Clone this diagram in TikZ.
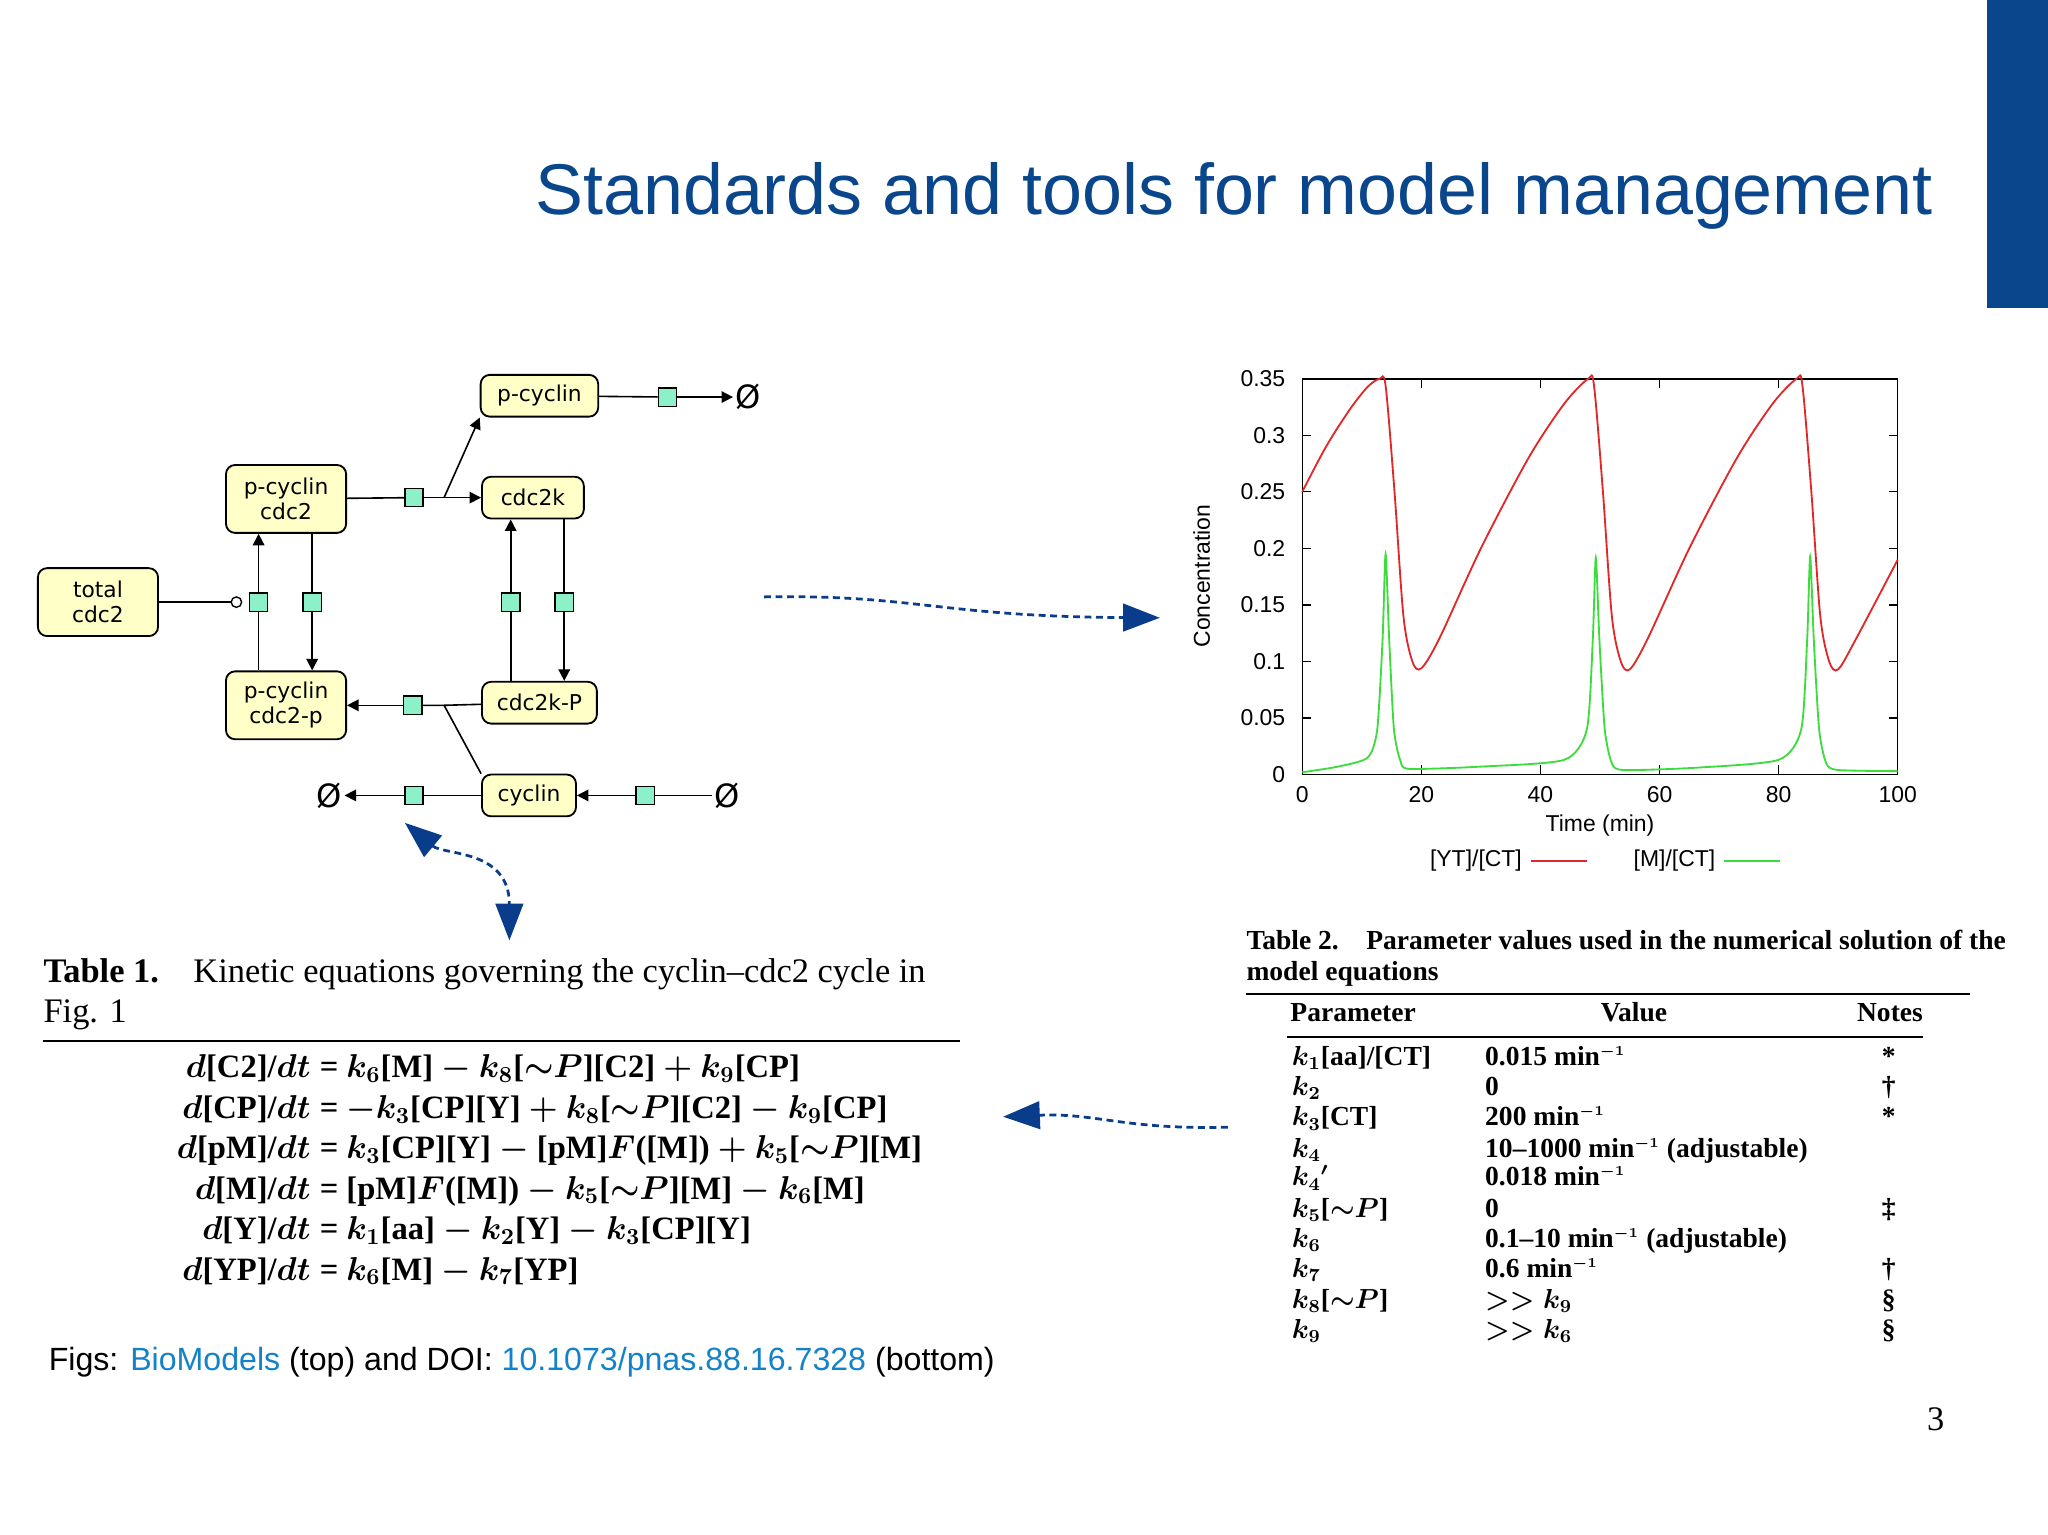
\documentclass[tikz,border=0pt]{standalone}
\usepackage{fontspec}
\setmainfont{Liberation Serif}
\setsansfont{Liberation Sans}
\newfontfamily\dv{DejaVu Sans}
\usetikzlibrary{arrows.meta,shapes.misc}
\definecolor{titleblue}{RGB}{10,70,140}
\definecolor{darkblue}{RGB}{10,60,140}
\definecolor{linkblue}{RGB}{20,130,200}
\definecolor{spfill}{RGB}{255,255,200}
\definecolor{sqfill}{RGB}{140,240,200}
\definecolor{redc}{RGB}{225,40,40}
\definecolor{greenc}{RGB}{60,220,60}
\newcommand{\mininv}{min$^{\scriptscriptstyle -1}$}
\tikzset{
 species/.style={draw,line width=0.8pt,rounded corners=4pt,fill=spfill,font=\dv\fontsize{9.5}{11}\selectfont,align=center,inner sep=0pt},
 proc/.style={draw,line width=0.6pt,fill=sqfill,minimum size=0.28cm,inner sep=0pt},
 emptyset/.style={font=\dv\fontsize{14}{14}\selectfont,inner sep=1pt},
 rx/.style={line width=0.7pt},
 rxa/.style={line width=0.7pt,-{Triangle[length=5pt,width=5pt]}},
 dasharrow/.style={darkblue,line width=1.2pt,dash pattern=on 3pt off 2pt,-{Triangle[length=16pt,width=12pt]}},
 t2/.style={anchor=base west},
}
\begin{document}
\begin{tikzpicture}[x=0.02cm,y=-0.02cm]
\useasboundingbox (0,0) rectangle (1568,1175);
\fill[white] (0,0) rectangle (1568,1175);
\fill[titleblue] (1521,0) rectangle (1568,236);
\node[anchor=base east,text=titleblue,font=\sffamily\fontsize{31.3}{36}\selectfont] (title) at (1486,164) {Standards and tools for model management};

% network
\node[species,minimum width=90*0.02cm,minimum height=32*0.02cm] (pc) at (413,303) {p-cyclin};
\node[species,minimum width=92*0.02cm,minimum height=52*0.02cm] (pcc) at (219,382) {p-cyclin\\cdc2};
\node[species,minimum width=78*0.02cm,minimum height=32*0.02cm] (ck) at (408,381) {cdc2k};
\node[species,minimum width=92*0.02cm,minimum height=52*0.02cm] (tot) at (75,461) {total\\cdc2};
\node[species,minimum width=92*0.02cm,minimum height=52*0.02cm] (pccp) at (219,540) {p-cyclin\\cdc2-p};
\node[species,minimum width=88*0.02cm,minimum height=32*0.02cm] (ckp) at (413,538) {cdc2k-P};
\node[species,minimum width=72*0.02cm,minimum height=32*0.02cm] (cyc) at (405,609) {cyclin};
\node[proc] (s1) at (511,304) {};
\node[proc] (s2) at (317,381) {};
\node[proc] (s3) at (198,461) {};
\node[proc] (s4) at (239,461) {};
\node[proc] (s5) at (391,461) {};
\node[proc] (s6) at (432,461) {};
\node[proc] (s7) at (316,540) {};
\node[proc] (s8) at (317,609) {};
\node[proc] (s9) at (494,609) {};
\node[emptyset] (e1) at (573,304) {Ø};
\node[emptyset] (e2) at (252,609) {Ø};
\node[emptyset] (e3) at (557,609) {Ø};
\coordinate (j1) at (340,381);
\coordinate (j2) at (340,540);
\draw[rx] (pc) -- (s1); \draw[rxa] (s1) -- (e1);
\draw[rx] (pcc) -- (s2); \draw[rx] (s2) -- (j1); \draw[rxa] (j1) -- (ck); \draw[rxa] (j1) -- (pc.south west);
\draw[rx] (pccp.north -| s3) -- (s3); \draw[rxa] (s3) -- (pcc.south -| s3);
\draw[rx] (pcc.south -| s4) -- (s4); \draw[rxa] (s4) -- (pccp.north -| s4);
\draw[rx] (ckp.north -| s5) -- (s5); \draw[rxa] (s5) -- (ck.south -| s5);
\draw[rx] (ck.south -| s6) -- (s6); \draw[rxa] (s6) -- (ckp.north -| s6);
\draw[rx] (ckp) -- (j2) -- (s7); \draw[rxa] (s7) -- (pccp);
\draw[rx] (cyc.north west) -- (j2);
\draw[rx] (cyc) -- (s8); \draw[rxa] (s8) -- (e2);
\draw[rx] (e3) -- (s9); \draw[rxa] (s9) -- (cyc);
\draw[rx] (tot) -- (177,461);
\draw[line width=0.6pt,fill=white] (181,461) circle (4*0.02cm);

% dashed arrows
\coordinate (a1) at (585,457); \coordinate (a2) at (888,473);
\draw[dasharrow] (a1) .. controls (700,455) and (720,472) .. (a2);
\coordinate (b1) at (940,863); \coordinate (b2) at (768,855);
\draw[dasharrow] (b1) .. controls (860,865) and (840,852) .. (b2);
\coordinate (c1) at (310,630); \coordinate (c2) at (390,720);
\draw[dasharrow,{Triangle[length=16pt,width=12pt]}-{Triangle[length=16pt,width=12pt]}] (c1) .. controls (340,655) and (390,650) .. (c2);

% plot
\begin{scope}[shift={(997,593)},x=0.0912cm,y=17.314cm]
\draw[line width=0.6pt] (0,0) rectangle (100,0.35);
\foreach \t in {0,20,40,60,80,100} {
  \draw[line width=0.5pt] (\t,0) -- (\t,0.008) (\t,0.35) -- (\t,0.342);
  \node[font=\sffamily\fontsize{10}{12}\selectfont] at (\t,-0.018) {\t};}
\foreach \c in {0,0.05,0.1,0.15,0.2,0.25,0.3,0.35} {
  \draw[line width=0.5pt] (0,\c) -- (1.5,\c) (100,\c) -- (98.5,\c);
  \node[anchor=east,font=\sffamily\fontsize{10}{12}\selectfont] at (-1.5,\c) {\c};}
\draw[redc,line width=0.8pt] plot[smooth,tension=0.5] coordinates {
 (0,0.25) (4,0.29) (8,0.323) (11,0.343) (13,0.35) (14,0.344) (15.5,0.25) (17,0.14) (18.5,0.1) (20,0.094) (23,0.12) (30,0.2) (38,0.28) (44,0.328) (48,0.35) (49,0.344) (50.5,0.25) (52,0.14) (53.5,0.1) (55,0.093) (58,0.12) (65,0.2) (73,0.28) (79,0.328) (83,0.35) (84,0.344) (85.5,0.25) (87,0.14) (88.5,0.1) (90,0.093) (93,0.12) (100,0.19)};
\draw[greenc,line width=0.8pt] plot[smooth,tension=0.4] coordinates {
 (0,0.002) (6,0.007) (11,0.015) (12.6,0.04) (13.5,0.12) (14,0.195) (14.6,0.12) (15.4,0.04) (16.5,0.012) (18,0.005) (30,0.007) (44,0.013) (47.8,0.04) (48.8,0.12) (49.3,0.192) (49.9,0.12) (50.8,0.04) (52,0.01) (54,0.004) (66,0.006) (80,0.013) (83.8,0.04) (84.8,0.12) (85.3,0.193) (85.9,0.12) (86.8,0.04) (88,0.01) (90,0.004) (100,0.003)};
\end{scope}
\node[rotate=90,font=\sffamily\fontsize{10}{12}\selectfont] (ylab) at (920,441) {Concentration};
\node[font=\sffamily\fontsize{10}{12}\selectfont] (xlab) at (1225,632) {Time (min)};
\node[font=\sffamily\fontsize{10}{12}\selectfont] (l1) at (1130,659) {[YT]/[CT]};
\draw[redc,line width=0.8pt] (1172,659) -- (1215,659);
\node[font=\sffamily\fontsize{10}{12}\selectfont] (l2) at (1282,659) {[M]/[CT]};
\draw[greenc,line width=0.8pt] (1320,659) -- (1363,659);

% Table 1
\node[anchor=base west,inner sep=0pt,font=\fontsize{15}{18}\selectfont] (t1a) at (33,752) {\textbf{Table 1.}\quad Kinetic equations governing the cyclin–cdc2 cycle in};
\node[anchor=base west,inner sep=0pt,font=\fontsize{15}{18}\selectfont] (t1b) at (33,783) {Fig. 1};
\draw[line width=1.2pt] (33,797) -- (735,797);
\foreach \y/\l/\r in {
 825/{$d$[C2]/$dt$}/{$k_6$[M] $-$ $k_8$[$\sim$$P$][C2] $+$ $k_9$[CP]},
 856/{$d$[CP]/$dt$}/{$-k_3$[CP][Y] $+$ $k_8$[$\sim$$P$][C2] $-$ $k_9$[CP]},
 887/{$d$[pM]/$dt$}/{$k_3$[CP][Y] $-$ [pM]$F$([M]) $+$ $k_5$[$\sim$$P$][M]},
 918/{$d$[M]/$dt$}/{[pM]$F$([M]) $-$ $k_5$[$\sim$$P$][M] $-$ $k_6$[M]},
 949/{$d$[Y]/$dt$}/{$k_1$[aa] $-$ $k_2$[Y] $-$ $k_3$[CP][Y]},
 980/{$d$[YP]/$dt$}/{$k_6$[M] $-$ $k_7$[YP]}} {
 \node[anchor=base east,font=\fontsize{14.2}{17}\selectfont\boldmath\bfseries] at (244,\y) {\l};
 \node[anchor=base,font=\fontsize{14.2}{17}\selectfont\boldmath\bfseries] at (252,\y) {=};
 \node[anchor=base west,font=\fontsize{14.2}{17}\selectfont\boldmath\bfseries] at (259,\y) {\r};}

% Table 2
\node[anchor=base west,inner sep=0pt,font=\fontsize{12}{15}\selectfont\bfseries] (t2a) at (954,727) {Table 2.\quad Parameter values used in the numerical solution of the};
\node[anchor=base west,inner sep=0pt,font=\fontsize{12}{15}\selectfont\bfseries] (t2b) at (954,751) {model equations};
\draw[line width=1.2pt] (954,761) -- (1508,761);
\node[anchor=base,font=\fontsize{12}{15}\selectfont\bfseries] at (1036,782) {Parameter};
\node[anchor=base,font=\fontsize{12}{15}\selectfont\bfseries] at (1251,782) {Value};
\node[anchor=base,font=\fontsize{12}{15}\selectfont\bfseries] at (1447,782) {Notes};
\draw[line width=1pt] (985,794) -- (1472,794);
\foreach \y/\p/\v/\n in {
 816/{$k_1$[aa]/[CT]}/{0.015 \mininv}/{*},
 839/{$k_2$}/{0}/{†},
 862/{$k_3$[CT]}/{200 \mininv}/{*},
 886/{$k_4$}/{10–1000 \mininv\ (adjustable)}/{},
 908/{$k_4{}'$}/{0.018 \mininv}/{},
 932/{$k_5$[$\sim$$P$]}/{0}/{‡},
 955/{$k_6$}/{0.1–10 \mininv\ (adjustable)}/{},
 978/{$k_7$}/{0.6 \mininv}/{†},
 1002/{$k_8$[$\sim$$P$]}/{$>>k_9$}/{§},
 1025/{$k_9$}/{$>>k_6$}/{§}} {
 \node[t2,inner sep=1pt,font=\fontsize{12}{15}\selectfont\bfseries\boldmath] at (987,\y) {\p};
 \node[t2,inner sep=1pt,font=\fontsize{12}{15}\selectfont\bfseries\boldmath] at (1135,\y) {\v};
 \node[anchor=base,inner sep=1pt,font=\fontsize{12}{15}\selectfont\bfseries] at (1446,\y) {\n};}

% caption
\node[anchor=base west,inner sep=0pt,font=\sffamily\fontsize{14}{17}\selectfont] (figs) at (37,1049) {Figs: \textcolor{linkblue}{BioModels} (top) and DOI: \textcolor{linkblue}{10.1073/pnas.88.16.7328} (bottom)};
\node[anchor=base,font=\fontsize{15}{18}\selectfont] (pg) at (1482,1095) {3};
\end{tikzpicture}
\end{document}
